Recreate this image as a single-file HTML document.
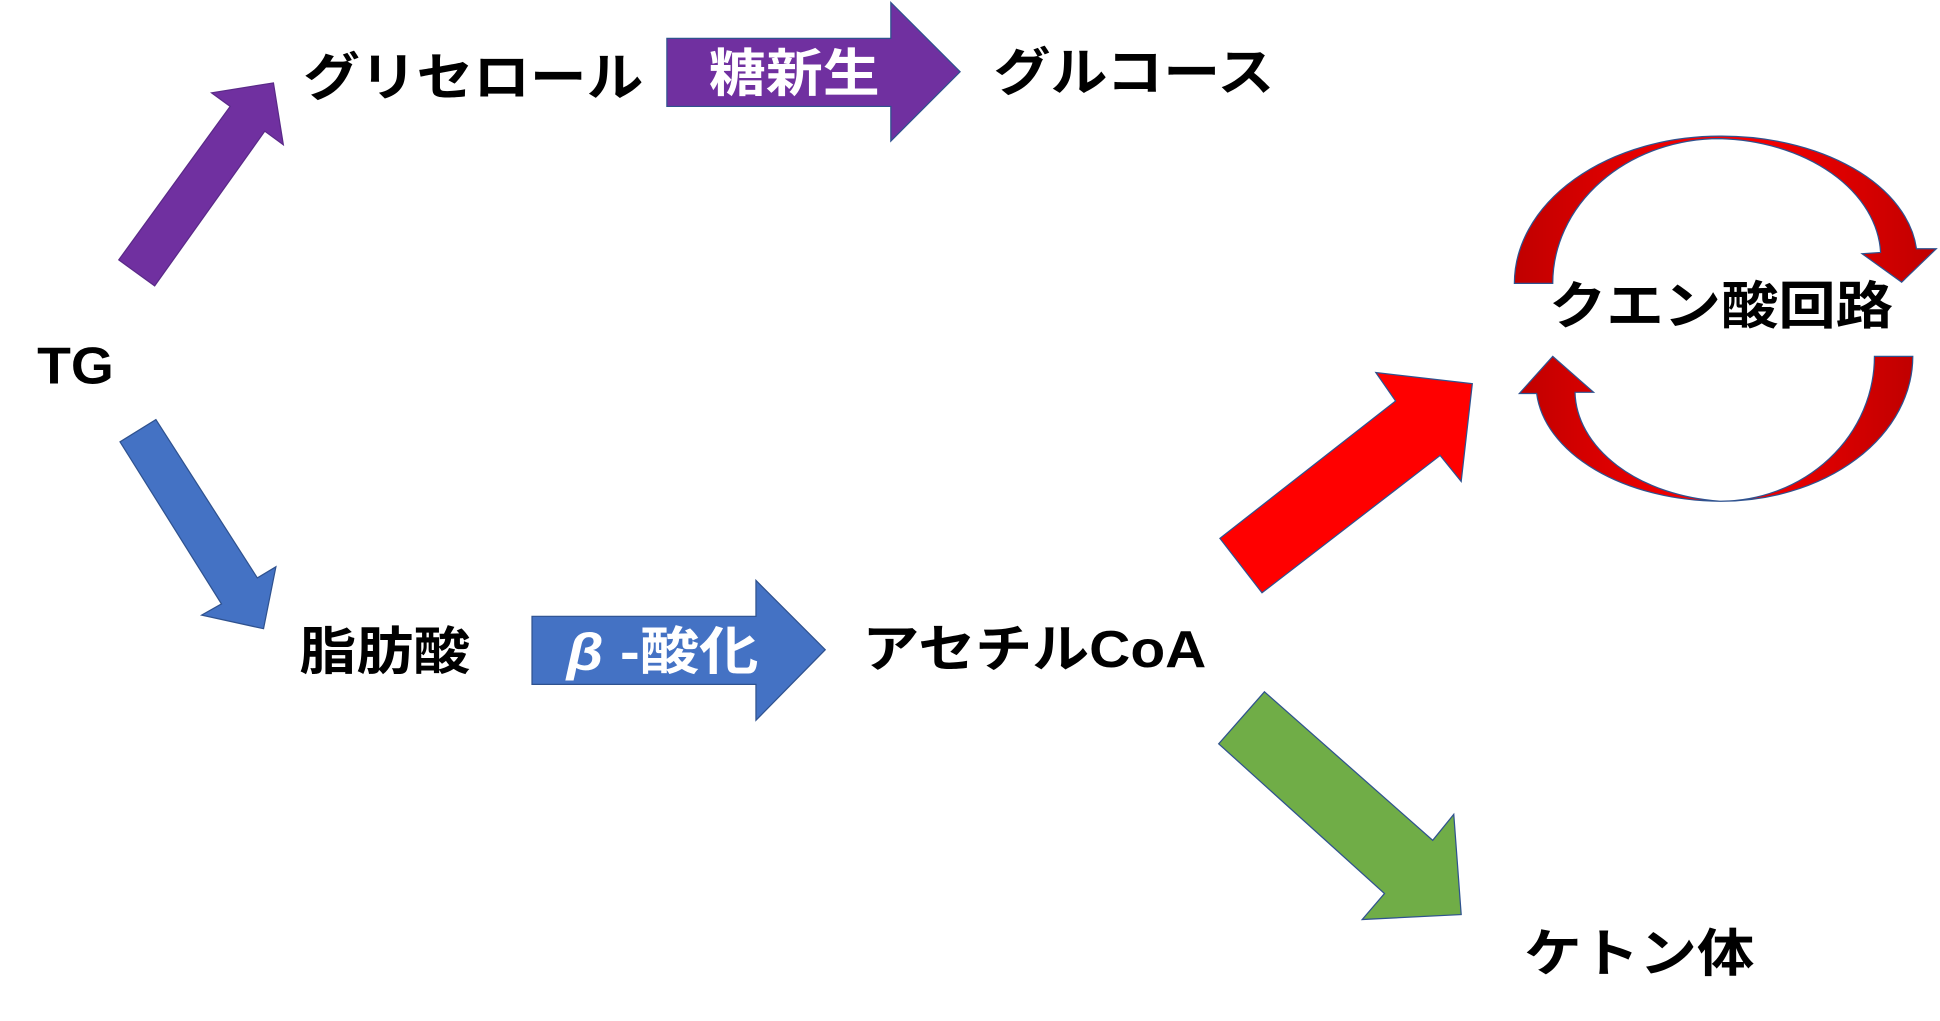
<!DOCTYPE html>
<html><head><meta charset="utf-8"><style>
html,body{margin:0;padding:0;background:#fff;}
svg{display:block;}
text{font-family:"Liberation Sans","Noto Sans CJK JP",sans-serif;font-weight:bold;}
</style></head><body>
<svg width="1940" height="1021" viewBox="0 0 1568 825" preserveAspectRatio="none" xmlns="http://www.w3.org/2000/svg">
<defs>
<linearGradient id="rg" x1="0" y1="0" x2="1" y2="0">
<stop offset="0" stop-color="#c00000"/><stop offset="0.5" stop-color="#ff0000"/><stop offset="1" stop-color="#c00000"/>
</linearGradient>
</defs>
<!-- purple diagonal -->
<polygon points="96,210 186,86 171,75 221,67 229,117 214,106 125,231" fill="#7030A0" stroke="#5a2a88" stroke-width="1"/>
<!-- 糖新生 arrow -->
<polygon points="539,31 720,31 720,2 776,58 720,114 720,86 539,86" fill="#7030A0" stroke="#2F528F" stroke-width="1"/>
<!-- blue diagonal -->
<polygon points="126,339 208,467 223,458 213,508 163,497 179,488 97,357" fill="#4472C4" stroke="#2F528F" stroke-width="1"/>
<!-- β-酸化 arrow -->
<polygon points="430,498 611,498 611,469 667,525 611,582 611,553 430,553" fill="#4472C4" stroke="#2F528F" stroke-width="1"/>
<!-- red arrow -->
<polygon points="986,435 1128,324 1112,301 1190,310 1181,389 1164,368 1020,479" fill="#ff0000" stroke="#2F528F" stroke-width="1"/>
<!-- green arrow -->
<polygon points="1022,559 1158,679 1175,658 1181,739 1101,743 1119,722 985,601" fill="#70AD47" stroke="#2F528F" stroke-width="1"/>
<!-- circular arrows -->
<path d="M1224,229 A166,119 0 0 1 1390,110 A158,100 0 0 1 1549,201 L1565,201 L1537,228 L1505,205 L1520,204 A135,96 0 0 0 1390,112 A135,117 0 0 0 1255,229 Z" fill="url(#rg)" stroke="#2F528F" stroke-width="1"/>
<path d="M1546,288 A155,117 0 0 1 1390,405 A150,95 0 0 1 1242,318 L1228,318 L1255,288 L1288,317 L1273,317 A130,90 0 0 0 1390,405 A125,117 0 0 0 1515,288 Z" fill="url(#rg)" stroke="#2F528F" stroke-width="1"/>
<!-- labels -->
<text x="30" y="310" font-size="42" textLength="62" lengthAdjust="spacingAndGlyphs">TG</text>
<text x="245" y="77" font-size="42" textLength="275" lengthAdjust="spacingAndGlyphs">グリセロール</text>
<text x="573" y="74" font-size="42" fill="#fff" textLength="138" lengthAdjust="spacingAndGlyphs">糖新生</text>
<text x="803" y="73" font-size="42" textLength="227" lengthAdjust="spacingAndGlyphs">グルコース</text>
<text x="242" y="541" font-size="42" textLength="138" lengthAdjust="spacingAndGlyphs">脂肪酸</text>
<text x="458" y="541" font-size="42" fill="#fff" textLength="155" lengthAdjust="spacingAndGlyphs"><tspan font-style="italic">β</tspan> -酸化</text>
<text x="697" y="539" font-size="42" textLength="278" lengthAdjust="spacingAndGlyphs">アセチルCoA</text>
<text x="1252" y="262" font-size="42" textLength="278" lengthAdjust="spacingAndGlyphs">クエン酸回路</text>
<text x="1232" y="785" font-size="42" textLength="186" lengthAdjust="spacingAndGlyphs">ケトン体</text>
</svg>
</body></html>
